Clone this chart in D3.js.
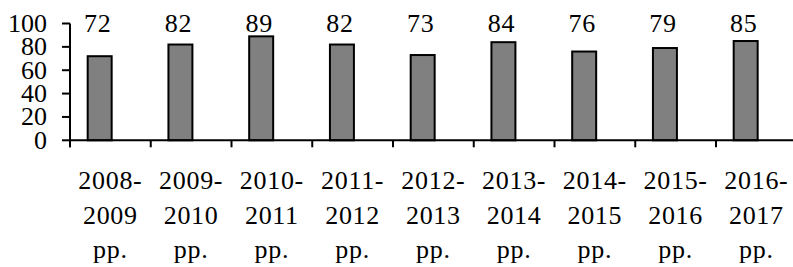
<!DOCTYPE html>
<html><head><meta charset="utf-8">
<script src="https://cdn.jsdelivr.net/npm/d3@7/dist/d3.min.js"></script>
<style>
html,body{margin:0;padding:0;background:#fff;}
svg{display:block;}
svg text{font-family:'Liberation Serif', 'Times New Roman', serif;}
</style></head>
<body><svg id="c" width="793" height="267"></svg>
<script>
const categories = ["2008-2009", "2009-2010", "2010-2011", "2011-2012", "2012-2013", "2013-2014", "2014-2015", "2015-2016", "2016-2017"];
const values = [72, 82, 89, 82, 73, 84, 76, 79, 85];
const yTicks = [0, 20, 40, 60, 80, 100];
const suffix = "pp.";

const svg = d3.select("#c");
const mLeft = 70, bandW = 80.75, mTop = 23.5, mBottom = 140.3;
const x = d3.scaleBand().domain(categories).range([mLeft, mLeft + bandW * categories.length]).padding(0);
const y = d3.scaleLinear().domain([0, 100]).range([mBottom, mTop]);
const bw = x.bandwidth();
const fs = 26, ls = 0.7;
const barOff = bw * 0.219, barW = bw * 0.297;

// bars
svg.append("g").selectAll("rect").data(categories).join("rect")
  .attr("x", d => x(d) + barOff)
  .attr("width", barW)
  .attr("y", (d, i) => y(values[i]))
  .attr("height", (d, i) => y(0) - y(values[i]))
  .attr("fill", "#808080").attr("stroke", "#000").attr("stroke-width", 2);

// value labels
svg.append("g").selectAll("text").data(categories).join("text")
  .attr("x", d => x(d) + barOff + barW / 2 - 2)
  .attr("y", 32)
  .attr("text-anchor", "middle")
  .attr("font-size", fs).attr("letter-spacing", ls)
  .text((d, i) => values[i]);

// y axis
const ya = svg.append("g");
ya.append("line").attr("x1", mLeft).attr("x2", mLeft).attr("y1", y(100)).attr("y2", mBottom + 7)
  .attr("stroke", "#000").attr("stroke-width", 2);
ya.selectAll("line.t").data(yTicks).join("line").attr("class", "t")
  .attr("x1", mLeft - 8).attr("x2", mLeft).attr("y1", d => y(d)).attr("y2", d => y(d))
  .attr("stroke", "#000").attr("stroke-width", 2);
ya.selectAll("text").data(yTicks).join("text")
  .attr("x", 47).attr("y", d => y(d) + 8.5)
  .attr("text-anchor", "end").attr("font-size", fs)
  .text(d => d);

// x axis
const xa = svg.append("g");
xa.append("line").attr("x1", mLeft).attr("x2", 793).attr("y1", mBottom).attr("y2", mBottom)
  .attr("stroke", "#000").attr("stroke-width", 2);
xa.selectAll("line.t").data(categories).join("line").attr("class", "t")
  .attr("x1", d => x(d)).attr("x2", d => x(d)).attr("y1", mBottom).attr("y2", mBottom + 7)
  .attr("stroke", "#000").attr("stroke-width", 2);
const lab = xa.selectAll("text").data(categories).join("text")
  .attr("text-anchor", "middle").attr("font-size", fs).attr("letter-spacing", ls);
lab.append("tspan").attr("x", d => x(d) + bw / 2).attr("y", 189).text(d => d.split("-")[0] + "-");
lab.append("tspan").attr("x", d => x(d) + bw / 2).attr("y", 224).text(d => d.split("-")[1]);
lab.append("tspan").attr("x", d => x(d) + bw / 2).attr("y", 258).text(suffix);
</script></body></html>
